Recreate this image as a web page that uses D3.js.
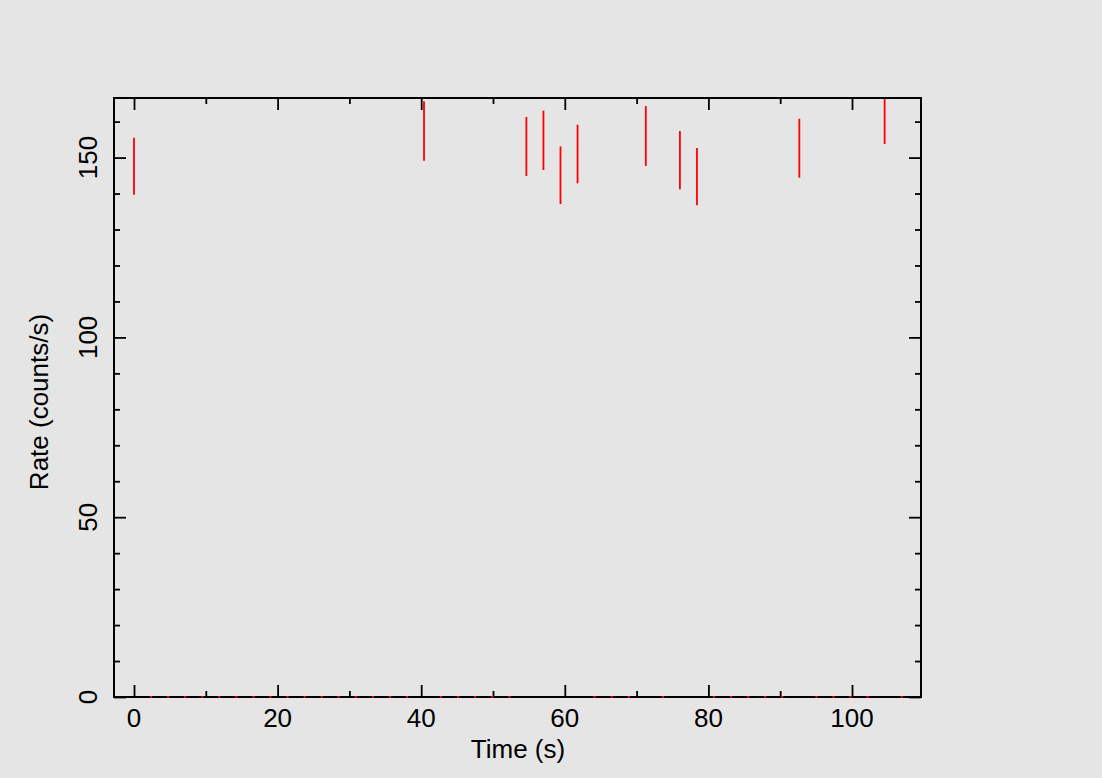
<!DOCTYPE html>
<html>
<head>
<meta charset="utf-8">
<script src="https://cdn.jsdelivr.net/npm/d3@7"></script>
<style>
  html, body { margin: 0; padding: 0; background: #e5e5e5; }
  svg { display: block; }
  text { font-family: "Liberation Sans", Arial, Helvetica, sans-serif; fill: #000; }
</style>
</head>
<body>
<svg id="chart" width="1102" height="778"></svg>
<script>
// ---- Data (binned light curve, bin width ~2.376 s) ----
const times = [0, 2.376, 4.752, 7.128, 9.504, 11.88, 14.256, 16.632, 19.008, 21.384,
  23.76, 26.136, 28.512, 30.888, 33.264, 35.64, 38.016, 40.392, 42.768, 45.144,
  47.52, 49.896, 52.272, 54.648, 57.024, 59.4, 61.776, 64.152, 66.528, 68.904,
  71.28, 73.656, 76.032, 78.408, 80.784, 83.16, 85.536, 87.912, 90.288, 92.664,
  95.04, 97.416, 99.792, 102.168, 104.544, 106.92];
const rates = [147.6, 0, 0, 0, 0, 0, 0, 0, 0, 0,
  0, 0, 0, 0, 0, 0, 0, 157.4, 0, 0,
  0, 0, 0, 153.1, 154.8, 145.1, 151.0, 0, 0, 0,
  156.0, 0, 149.3, 144.7, 0, 0, 0, 0, 0, 152.6,
  0, 0, 0, 0, 162.0, 0];
const errors = [7.9, 0, 0, 0, 0, 0, 0, 0, 0, 0,
  0, 0, 0, 0, 0, 0, 0, 8.3, 0, 0,
  0, 0, 0, 8.2, 8.25, 8.0, 8.15, 0, 0, 0,
  8.35, 0, 8.1, 7.95, 0, 0, 0, 0, 0, 8.2,
  0, 0, 0, 0, 8.25, 0];
const xDomain = [-2.786, 109.61];
const yDomain = [0, 166.57];
const xMajor = [0, 20, 40, 60, 80, 100];
const xMinor = [10, 30, 50, 70, 90];
const yMajor = [0, 50, 100, 150];
const yMinor = [10, 20, 30, 40, 60, 70, 80, 90, 110, 120, 130, 140, 160];
const xTitle = "Time (s)";
const yTitle = "Rate (counts/s)";

// ---- Layout ----
const L = 114, R = 921, T = 98, B = 697;
const svg = d3.select("#chart");
const x = d3.scaleLinear().domain(xDomain).range([L, R]);
const y = d3.scaleLinear().domain(yDomain).range([B, T]);

svg.append("defs").append("clipPath").attr("id", "clip")
  .append("rect").attr("x", L).attr("y", T).attr("width", R - L).attr("height", B - T);

// ---- Data marks ----
const pts = times.map((t, i) => ({ t, r: rates[i], e: errors[i] }));
const g = svg.append("g").attr("clip-path", "url(#clip)");
g.selectAll("line.err").data(pts.filter(d => d.e > 0)).join("line")
  .attr("class", "err")
  .attr("x1", d => x(d.t)).attr("x2", d => x(d.t))
  .attr("y1", d => y(d.r - d.e)).attr("y2", d => y(d.r + d.e))
  .attr("stroke", "#ff0000").attr("stroke-width", 1.8);

// ---- Axes (ticks inward on all four sides) ----
const tickW = 1.8;
function axisTicks(gen, vals, size, transform) {
  const a = svg.append("g").attr("transform", transform)
    .call(gen.tickValues(vals).tickSize(-size).tickFormat(""));
  a.select(".domain").remove();
  a.selectAll(".tick line").attr("stroke", "#000").attr("stroke-width", tickW);
  return a;
}
axisTicks(d3.axisBottom(x), xMajor, 12, `translate(0,${B})`);
axisTicks(d3.axisBottom(x), xMinor, 6, `translate(0,${B})`);
axisTicks(d3.axisTop(x), xMajor, 12, `translate(0,${T})`);
axisTicks(d3.axisTop(x), xMinor, 6, `translate(0,${T})`);
axisTicks(d3.axisLeft(y), yMajor, 12, `translate(${L},0)`);
axisTicks(d3.axisLeft(y), yMinor, 6, `translate(${L},0)`);
axisTicks(d3.axisRight(y), yMajor, 12, `translate(${R},0)`);
axisTicks(d3.axisRight(y), yMinor, 6, `translate(${R},0)`);

// frame
svg.append("rect").attr("x", L).attr("y", T).attr("width", R - L).attr("height", B - T)
  .attr("fill", "none").attr("stroke", "#000").attr("stroke-width", 2);

// zero-rate bins (points sitting on the axis)
svg.selectAll("rect.zero").data(pts.filter(d => d.e === 0)).join("rect")
  .attr("class", "zero")
  .attr("x", d => x(d.t) - 1).attr("y", y(0) - 1)
  .attr("width", 2).attr("height", 2)
  .attr("fill", "#ff0000");

// tick labels
svg.selectAll("text.xl").data(xMajor).join("text")
  .attr("class", "xl")
  .attr("x", d => x(d)).attr("y", 726.5)
  .attr("text-anchor", "middle").attr("font-size", 26)
  .text(d => d);
svg.selectAll("text.yl").data(yMajor).join("text")
  .attr("class", "yl")
  .attr("transform", d => `translate(97,${y(d)}) rotate(-90)`)
  .attr("text-anchor", "middle").attr("font-size", 26)
  .text(d => d);

// titles
svg.append("text").attr("x", 518).attr("y", 758)
  .attr("text-anchor", "middle").attr("font-size", 26).text(xTitle);
svg.append("text").attr("transform", "translate(48,402) rotate(-90)")
  .attr("text-anchor", "middle").attr("font-size", 26).text(yTitle);
</script>
</body>
</html>
